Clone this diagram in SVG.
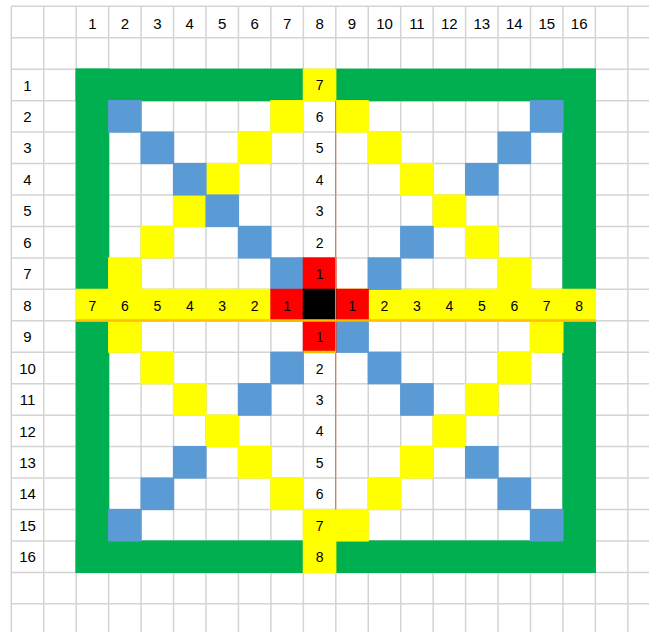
<svg xmlns="http://www.w3.org/2000/svg" width="649" height="632" viewBox="0 0 649 632">
<style>
.g{fill:#00B050}.b{fill:#5B9BD5}.y{fill:#FFFF00}.r{fill:#FF0000}.k{fill:#000000}
.grid line{stroke:#D4D4D4;stroke-width:1.5}
text{font-family:"Liberation Sans",Arial,sans-serif;fill:#000;text-anchor:middle}
.h text{font-size:15px}
.t text{font-size:14px}
</style>
<rect width="649" height="632" fill="#FFFFFF"/>
<g id="gridlines" class="grid">
<line x1="11.3" y1="6.3" x2="11.3" y2="632"/><line x1="43.75" y1="6.3" x2="43.75" y2="632"/><line x1="76.2" y1="6.3" x2="76.2" y2="632"/><line x1="108.65" y1="6.3" x2="108.65" y2="632"/><line x1="141.1" y1="6.3" x2="141.1" y2="632"/><line x1="173.55" y1="6.3" x2="173.55" y2="632"/><line x1="206" y1="6.3" x2="206" y2="632"/><line x1="238.45" y1="6.3" x2="238.45" y2="632"/><line x1="270.9" y1="6.3" x2="270.9" y2="632"/><line x1="303.35" y1="6.3" x2="303.35" y2="632"/><line x1="335.8" y1="6.3" x2="335.8" y2="632"/><line x1="368.25" y1="6.3" x2="368.25" y2="632"/><line x1="400.7" y1="6.3" x2="400.7" y2="632"/><line x1="433.15" y1="6.3" x2="433.15" y2="632"/><line x1="465.6" y1="6.3" x2="465.6" y2="632"/><line x1="498.05" y1="6.3" x2="498.05" y2="632"/><line x1="530.5" y1="6.3" x2="530.5" y2="632"/><line x1="562.95" y1="6.3" x2="562.95" y2="632"/><line x1="595.4" y1="6.3" x2="595.4" y2="632"/><line x1="627.85" y1="6.3" x2="627.85" y2="632"/>
<line x1="11.3" y1="6.3" x2="649" y2="6.3"/><line x1="11.3" y1="37.75" x2="649" y2="37.75"/><line x1="11.3" y1="69.2" x2="649" y2="69.2"/><line x1="11.3" y1="100.65" x2="649" y2="100.65"/><line x1="11.3" y1="132.1" x2="649" y2="132.1"/><line x1="11.3" y1="163.55" x2="649" y2="163.55"/><line x1="11.3" y1="195" x2="649" y2="195"/><line x1="11.3" y1="226.45" x2="649" y2="226.45"/><line x1="11.3" y1="257.9" x2="649" y2="257.9"/><line x1="11.3" y1="289.35" x2="649" y2="289.35"/><line x1="11.3" y1="320.8" x2="649" y2="320.8"/><line x1="11.3" y1="352.25" x2="649" y2="352.25"/><line x1="11.3" y1="383.7" x2="649" y2="383.7"/><line x1="11.3" y1="415.15" x2="649" y2="415.15"/><line x1="11.3" y1="446.6" x2="649" y2="446.6"/><line x1="11.3" y1="478.05" x2="649" y2="478.05"/><line x1="11.3" y1="509.5" x2="649" y2="509.5"/><line x1="11.3" y1="540.95" x2="649" y2="540.95"/><line x1="11.3" y1="572.4" x2="649" y2="572.4"/><line x1="11.3" y1="603.85" x2="649" y2="603.85"/>
</g>
<g id="green-frame" class="g">
<rect x="75.6" y="68.6" width="228.35" height="32.65"/>
<rect x="335.2" y="68.6" width="260.8" height="32.65"/>
<rect x="75.6" y="540.35" width="228.35" height="32.65"/>
<rect x="335.2" y="540.35" width="260.8" height="32.65"/>
<rect x="75.6" y="68.6" width="33.65" height="221.35"/>
<rect x="75.6" y="320.2" width="33.65" height="252.8"/>
<rect x="562.35" y="68.6" width="33.65" height="221.35"/>
<rect x="562.35" y="320.2" width="33.65" height="252.8"/>
</g>
<g id="yellow-cells" class="y">
<rect x="75.6" y="288.75" width="520.4" height="32.65"/>
<rect x="302.75" y="68.6" width="33.65" height="32.65"/>
<rect x="302.75" y="508.9" width="33.65" height="64.1"/>
<rect x="270.3" y="100.05" width="33.65" height="32.65"/>
<rect x="237.85" y="131.5" width="33.65" height="32.65"/>
<rect x="205.4" y="162.95" width="33.65" height="32.65"/>
<rect x="172.95" y="194.4" width="33.65" height="32.65"/>
<rect x="140.5" y="225.85" width="33.65" height="32.65"/>
<rect x="108.05" y="257.3" width="33.65" height="32.65"/>
<rect x="335.2" y="100.05" width="33.65" height="32.65"/>
<rect x="367.65" y="131.5" width="33.65" height="32.65"/>
<rect x="400.1" y="162.95" width="33.65" height="32.65"/>
<rect x="432.55" y="194.4" width="33.65" height="32.65"/>
<rect x="465" y="225.85" width="33.65" height="32.65"/>
<rect x="497.45" y="257.3" width="33.65" height="32.65"/>
<rect x="108.05" y="320.2" width="33.65" height="32.65"/>
<rect x="140.5" y="351.65" width="33.65" height="32.65"/>
<rect x="172.95" y="383.1" width="33.65" height="32.65"/>
<rect x="205.4" y="414.55" width="33.65" height="32.65"/>
<rect x="237.85" y="446" width="33.65" height="32.65"/>
<rect x="270.3" y="477.45" width="33.65" height="32.65"/>
<rect x="529.9" y="320.2" width="33.65" height="32.65"/>
<rect x="497.45" y="351.65" width="33.65" height="32.65"/>
<rect x="465" y="383.1" width="33.65" height="32.65"/>
<rect x="432.55" y="414.55" width="33.65" height="32.65"/>
<rect x="400.1" y="446" width="33.65" height="32.65"/>
<rect x="367.65" y="477.45" width="33.65" height="32.65"/>
<rect x="335.2" y="508.9" width="33.65" height="32.65"/>
</g>
<g id="blue-cells" class="b">
<rect x="108.05" y="100.05" width="33.65" height="32.65"/>
<rect x="140.5" y="131.5" width="33.65" height="32.65"/>
<rect x="172.95" y="162.95" width="33.65" height="32.65"/>
<rect x="205.4" y="194.4" width="33.65" height="32.65"/>
<rect x="237.85" y="225.85" width="33.65" height="32.65"/>
<rect x="270.3" y="257.3" width="33.65" height="32.65"/>
<rect x="529.9" y="100.05" width="33.65" height="32.65"/>
<rect x="497.45" y="131.5" width="33.65" height="32.65"/>
<rect x="465" y="162.95" width="33.65" height="32.65"/>
<rect x="400.1" y="225.85" width="33.65" height="32.65"/>
<rect x="367.65" y="257.3" width="33.65" height="32.65"/>
<rect x="335.2" y="320.2" width="33.65" height="32.65"/>
<rect x="367.65" y="351.65" width="33.65" height="32.65"/>
<rect x="400.1" y="383.1" width="33.65" height="32.65"/>
<rect x="465" y="446" width="33.65" height="32.65"/>
<rect x="497.45" y="477.45" width="33.65" height="32.65"/>
<rect x="529.9" y="508.9" width="33.65" height="32.65"/>
<rect x="270.3" y="351.65" width="33.65" height="32.65"/>
<rect x="237.85" y="383.1" width="33.65" height="32.65"/>
<rect x="172.95" y="446" width="33.65" height="32.65"/>
<rect x="140.5" y="477.45" width="33.65" height="32.65"/>
<rect x="108.05" y="508.9" width="33.65" height="32.65"/>
</g>
<g id="center-cells">
<rect class="r" x="302.75" y="257.3" width="33.65" height="32.65"/>
<rect class="r" x="270.3" y="288.75" width="33.65" height="32.65"/>
<rect class="r" x="335.2" y="288.75" width="33.65" height="32.65"/>
<rect class="r" x="302.75" y="320.2" width="33.65" height="32.65"/>
<rect class="k" x="302.75" y="288.75" width="33.65" height="32.65"/>
</g>
<g id="borders">
<line x1="335.6" y1="100.65" x2="335.6" y2="509.5" stroke="#ED7D31" stroke-width="1.2"/>
<line x1="76.2" y1="320.5" x2="595.4" y2="320.5" stroke="#FFC000" stroke-width="2.5"/>
<line x1="303.35" y1="352" x2="336" y2="352" stroke="#FFC000" stroke-width="2.5"/>
</g>
<g id="column-headers" class="h">
<text x="92.43" y="29">1</text><text x="124.88" y="29">2</text><text x="157.33" y="29">3</text><text x="189.78" y="29">4</text><text x="222.23" y="29">5</text><text x="254.68" y="29">6</text><text x="287.13" y="29">7</text><text x="319.58" y="29">8</text><text x="352.03" y="29">9</text><text x="384.48" y="29">10</text><text x="416.93" y="29">11</text><text x="449.38" y="29">12</text><text x="481.83" y="29">13</text><text x="514.28" y="29">14</text><text x="546.73" y="29">15</text><text x="579.18" y="29">16</text>
</g>
<g id="row-headers" class="h">
<text x="27.5" y="90.5">1</text><text x="27.5" y="122">2</text><text x="27.5" y="153.4">3</text><text x="27.5" y="184.9">4</text><text x="27.5" y="216.3">5</text><text x="27.5" y="247.8">6</text><text x="27.5" y="279.2">7</text><text x="27.5" y="310.7">8</text><text x="27.5" y="342.1">9</text><text x="27.5" y="373.6">10</text><text x="27.5" y="405">11</text><text x="27.5" y="436.5">12</text><text x="27.5" y="467.9">13</text><text x="27.5" y="499.4">14</text><text x="27.5" y="530.8">15</text><text x="27.5" y="562.3">16</text>
</g>
<g id="row8-numbers" class="t">
<text x="92.43" y="310.6">7</text><text x="124.88" y="310.6">6</text><text x="157.33" y="310.6">5</text><text x="189.78" y="310.6">4</text><text x="222.23" y="310.6">3</text><text x="254.68" y="310.6">2</text><text x="287.13" y="310.6">1</text>
<text x="352.03" y="310.6">1</text><text x="384.48" y="310.6">2</text><text x="416.93" y="310.6">3</text><text x="449.38" y="310.6">4</text><text x="481.83" y="310.6">5</text><text x="514.28" y="310.6">6</text><text x="546.73" y="310.6">7</text><text x="579.18" y="310.6">8</text>
</g>
<g id="col8-numbers" class="t">
<text x="319.58" y="90.4">7</text><text x="319.58" y="121.9">6</text><text x="319.58" y="153.3">5</text><text x="319.58" y="184.8">4</text><text x="319.58" y="216.2">3</text><text x="319.58" y="247.7">2</text><text x="319.58" y="279.1">1</text>
<text x="319.58" y="342">1</text><text x="319.58" y="373.5">2</text><text x="319.58" y="404.9">3</text><text x="319.58" y="436.4">4</text><text x="319.58" y="467.8">5</text><text x="319.58" y="499.3">6</text><text x="319.58" y="530.7">7</text><text x="319.58" y="562.2">8</text>
</g>
</svg>
